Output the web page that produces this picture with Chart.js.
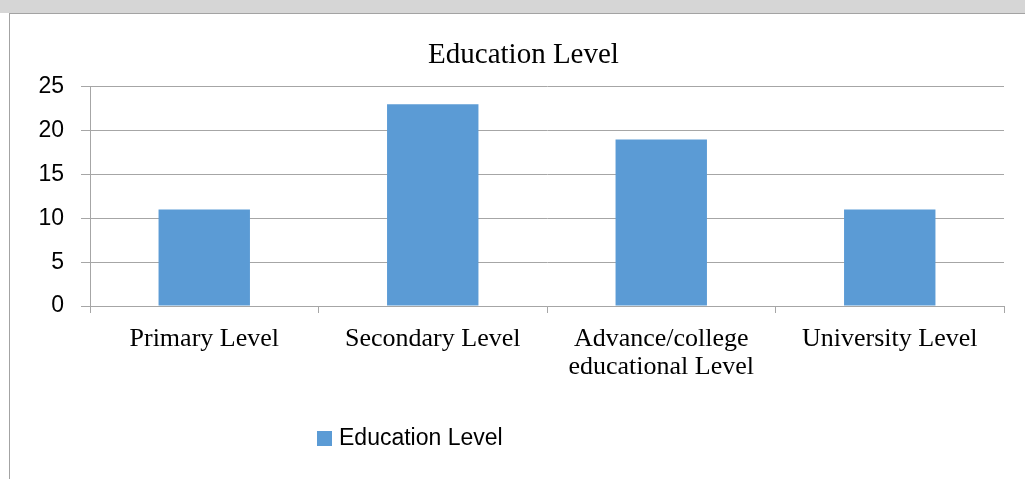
<!DOCTYPE html>
<html>
<head>
<meta charset="utf-8">
<script src="https://cdn.jsdelivr.net/npm/chart.js@4.4.1/dist/chart.umd.min.js"></script>
<style>
  html, body { margin: 0; padding: 0; background: #fff; }
  body { width: 1025px; height: 479px; position: relative; overflow: hidden; }
  .strip { position: absolute; left: 0; top: 0; width: 1025px; height: 13px; background: #d6d6d6; }
  .frame { position: absolute; left: 9px; top: 13px; width: 1030px; height: 480px;
           border-left: 1px solid #a3a3a3; border-top: 1px solid #a3a3a3; }
  /* canvas a bit wider than the window (the Excel chart is cut on the right) */
  .wrap { position: absolute; left: 10px; top: 14px; width: 1027px; height: 465px; }
</style>
</head>
<body>
<div class="strip"></div>
<div class="frame"></div>
<div class="wrap"><canvas id="eduChart"></canvas></div>
<script>
// data
const categories = [
  "Primary Level",
  "Secondary Level",
  ["Advance/college", "educational Level"],
  "University Level",
];
const seriesName = "Education Level";
const seriesValues = [11, 23, 19, 11];
const yTicks = [0, 5, 10, 15, 20, 25];

const barColor = "#5B9BD5";
const gridColor = "#A6A6A6";

// small legend drawn under the plot, like the Excel one
const legendPlugin = {
  id: "bottomLegend",
  afterDraw(chart) {
    const ctx = chart.ctx;
    const ds = chart.data.datasets[0];
    ctx.save();
    ctx.fillStyle = ds.backgroundColor;
    ctx.fillRect(307, 417, 15, 15);
    ctx.fillStyle = "#000";
    ctx.font = "23px 'Liberation Sans', Arial, sans-serif";
    ctx.textBaseline = "middle";
    ctx.textAlign = "left";
    ctx.fillText(ds.label, 329, 425);
    ctx.restore();
  },
};

const ctx = document.getElementById("eduChart").getContext("2d");
new Chart(ctx, {
  type: "bar",
  data: {
    labels: categories,
    datasets: [
      {
        label: seriesName,
        data: seriesValues,
        backgroundColor: barColor,
        borderWidth: 0,
        categoryPercentage: 1,
        barPercentage: 0.4,
      },
    ],
  },
  options: {
    responsive: true,
    maintainAspectRatio: false,
    animation: false,
    layout: { padding: 0 },
    plugins: {
      legend: { display: false },
      tooltip: { enabled: false },
      title: {
        display: true,
        text: seriesName,
        color: "#000",
        font: { family: "'Liberation Serif', 'Times New Roman', serif", size: 29, weight: "normal", lineHeight: 1.2 },
        padding: { top: 24, bottom: 14 },
      },
    },
    scales: {
      x: {
        offset: true,
        grid: {
          offset: true,
          drawOnChartArea: false,
          drawTicks: true,
          tickLength: 7,
          color: gridColor,
        },
        border: { color: gridColor },
        ticks: {
          color: "#000",
          maxRotation: 0,
          autoSkip: false,
          padding: 12,
          font: { family: "'Liberation Serif', 'Times New Roman', serif", size: 26, lineHeight: 1.08 },
        },
        afterFit(scale) {
          scale.height = 173;
        },
      },
      y: {
        min: 0,
        max: 25,
        afterBuildTicks(scale) {
          scale.ticks = yTicks.map((v) => ({ value: v }));
        },
        grid: { color: gridColor, tickLength: 9 },
        border: { color: gridColor },
        ticks: {
          color: "#000",
          padding: 17,
          font: { family: "'Liberation Sans', Arial, sans-serif", size: 23 },
        },
        afterFit(scale) {
          scale.width = 80;
        },
      },
      // empty right axis, only keeps the plot off the right edge while the title stays centred on the canvas
      spacer: {
        position: "right",
        grid: { display: false },
        border: { display: false },
        ticks: { display: false },
        afterFit(scale) {
          scale.width = 33;
        },
      },
    },
  },
  plugins: [legendPlugin],
});
</script>
</body>
</html>
